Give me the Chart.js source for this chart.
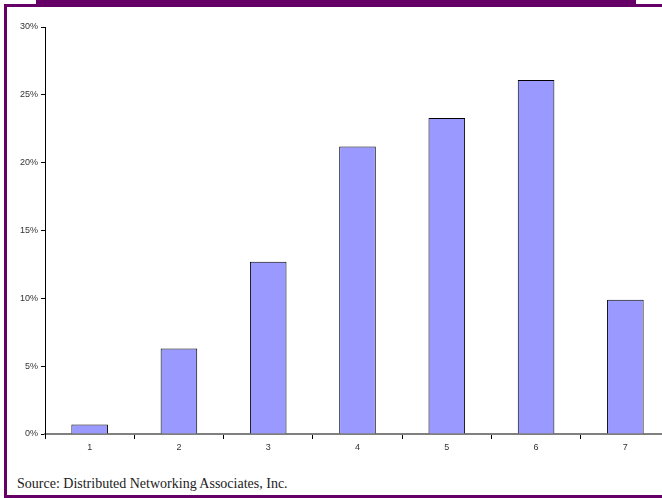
<!DOCTYPE html>
<html>
<head>
<meta charset="utf-8">
<script src="https://cdn.jsdelivr.net/npm/chart.js@4/dist/chart.umd.min.js"></script>
<style>
    html, body { margin: 0; padding: 0; background: #fff; overflow: hidden; width: 662px; height: 498px; }
    #banner { position: absolute; left: 36px; top: 0; width: 600px; height: 4px; background: #660066; }
    #frame {
        position: absolute; left: 4px; top: 4px; width: 700px; height: 488px;
        border-top: 3px solid #660066; border-left: 3px solid #660066; border-bottom: 3px solid #660066;
    }
    #chart { position: absolute; left: 0; top: 0; }
    #source {
        position: absolute; left: 17px; top: 476px;
        font-family: "Liberation Serif", "DejaVu Serif", serif; font-size: 14px; color: #222;
        white-space: nowrap;
    }
</style>
</head>
<body>
<div id="banner"></div>
<div id="frame"></div>
<canvas id="chart" width="680" height="460"></canvas>
<div id="source">Source: Distributed Networking Associates, Inc.</div>

<script>
// Data (percent)
const categories = ['1', '2', '3', '4', '5', '6', '7'];
const shares = [0.7, 6.3, 12.7, 21.2, 23.3, 26.1, 9.9];
const yTicks = [0, 5, 10, 15, 20, 25, 30];

Chart.defaults.font.family = "'Liberation Sans', Arial, sans-serif";
Chart.defaults.color = '#333';

new Chart(document.getElementById('chart'), {
    type: 'bar',
    data: {
        labels: categories,
        datasets: [{
            data: shares,
            backgroundColor: '#9999ff',
            borderColor: '#000',
            borderWidth: 1,
            categoryPercentage: 1,
            barPercentage: 0.41
        }]
    },
    options: {
        responsive: false,
        animation: false,
        layout: { padding: { top: 27, right: 10, left: 0, bottom: 0 } },
        plugins: {
            legend: { display: false },
            tooltip: { enabled: false }
        },
        scales: {
            x: {
                offset: true,
                border: { color: '#808080', width: 2 },
                grid: { offset: true, drawOnChartArea: false, drawTicks: true, tickLength: 5, color: '#000' },
                ticks: { font: { size: 9 }, color: '#333', padding: 3 },
                afterFit: (s) => { s.height = 26; }
            },
            y: {
                min: 0,
                max: 30,
                border: { color: '#000', width: 1 },
                grid: { drawOnChartArea: false, drawTicks: true, tickLength: 4, color: '#000' },
                afterBuildTicks: (s) => { s.ticks = yTicks.map(v => ({ value: v })); },
                ticks: {
                    font: { size: 9 },
                    color: '#333',
                    padding: 3,
                    callback: (v) => v + '%'
                },
                afterFit: (s) => { s.width = 45; }
            }
        }
    }
});
</script>
</body>
</html>
